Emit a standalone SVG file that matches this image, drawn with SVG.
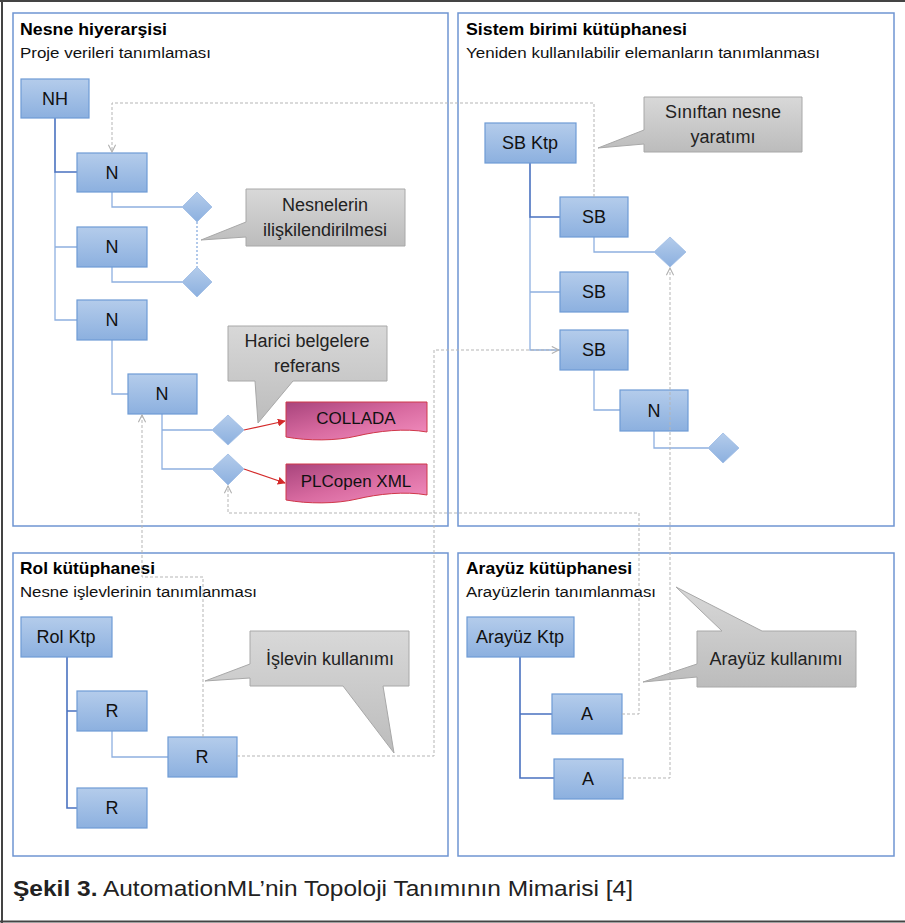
<svg xmlns="http://www.w3.org/2000/svg" width="905" height="923" viewBox="0 0 905 923">
<defs>
<linearGradient id="gNode" x1="0" y1="0" x2="0" y2="1"><stop offset="0" stop-color="#b4cceb"/><stop offset="1" stop-color="#8cb0df"/></linearGradient>
<linearGradient id="gCall" x1="0" y1="0" x2="0" y2="1"><stop offset="0" stop-color="#d8d8d8"/><stop offset="1" stop-color="#bcbcbc"/></linearGradient>
<linearGradient id="gDoc" x1="0" y1="0" x2="1" y2="1"><stop offset="0" stop-color="#a8447c"/><stop offset="0.5" stop-color="#d86aa0"/><stop offset="1" stop-color="#f490c0"/></linearGradient>
<marker id="ga" viewBox="0 0 10 10" refX="9" refY="5" markerWidth="9" markerHeight="9" markerUnits="userSpaceOnUse" orient="auto"><path d="M1,1 L9,5 L1,9" fill="none" stroke="#b0b0b0" stroke-width="1.2"/></marker>
<marker id="ra" viewBox="0 0 10 10" refX="9" refY="5" markerWidth="8" markerHeight="8" markerUnits="userSpaceOnUse" orient="auto"><path d="M0,0 L10,5 L0,10 Z" fill="#d42a2a"/></marker>
</defs>
<style>
.panel{fill:#fff;stroke:#6f95d2;stroke-width:1.5}
.node rect{fill:url(#gNode);stroke:#6e9bd5;stroke-width:1.2}
.node text{font-family:"Liberation Sans",Arial,sans-serif;font-size:18px;fill:#111;text-anchor:middle}
.dia{fill:url(#gNode);stroke:#9dbbe4;stroke-width:0.8}
.dark{fill:none;stroke:#4a72c0;stroke-width:1.6}
.light{fill:none;stroke:#8eb0e0;stroke-width:1.3}
.dash{fill:none;stroke:#b5b5b5;stroke-width:1;stroke-dasharray:3,2}
.bdash{fill:none;stroke:#7fa6dc;stroke-width:1.2;stroke-dasharray:2,2}
.red{fill:none;stroke:#d42a2a;stroke-width:1.2}
.call path{fill:url(#gCall);stroke:#a8a8a8;stroke-width:1}
.call text{font-family:"Liberation Sans",Arial,sans-serif;font-size:18px;fill:#222;text-anchor:middle}
.doc path{fill:url(#gDoc);stroke:#d0384a;stroke-width:1}
.doc text{font-family:"Liberation Sans",Arial,sans-serif;font-size:17px;fill:#111;text-anchor:middle}
.ttl{font-family:"Liberation Sans",Arial,sans-serif;font-size:17px;font-weight:bold;fill:#000}
.sub{font-family:"Liberation Sans",Arial,sans-serif;font-size:15.5px;fill:#111}
</style>
<rect width="905" height="923" fill="#fff"/>
<g id="frame" fill="none" stroke="#444" stroke-width="2">
<path d="M0,1 H905"/><path d="M2,0 V923"/><path d="M0,921.5 H905"/>
</g>
<g id="panels">
<rect class="panel" x="13" y="13" width="435" height="513"/>
<rect class="panel" x="458" y="13" width="436" height="513"/>
<rect class="panel" x="13" y="553" width="435" height="303"/>
<rect class="panel" x="458" y="553" width="436" height="303"/>
<text class="ttl" x="20" y="35" textLength="147" lengthAdjust="spacingAndGlyphs">Nesne hiyerarşisi</text>
<text class="sub" x="20" y="58" textLength="191" lengthAdjust="spacingAndGlyphs">Proje verileri tanımlaması</text>
<text class="ttl" x="466" y="35" textLength="221" lengthAdjust="spacingAndGlyphs">Sistem birimi kütüphanesi</text>
<text class="sub" x="466" y="58" textLength="354" lengthAdjust="spacingAndGlyphs">Yeniden kullanılabilir elemanların tanımlanması</text>
<text class="ttl" x="20" y="574" textLength="135" lengthAdjust="spacingAndGlyphs">Rol kütüphanesi</text>
<text class="sub" x="20" y="597" textLength="237" lengthAdjust="spacingAndGlyphs">Nesne işlevlerinin tanımlanması</text>
<text class="ttl" x="466" y="574" textLength="166" lengthAdjust="spacingAndGlyphs">Arayüz kütüphanesi</text>
<text class="sub" x="466" y="597" textLength="190" lengthAdjust="spacingAndGlyphs">Arayüzlerin tanımlanması</text>
</g>
<g id="connectors">
<path class="light" d="M55,172 V320 H77 M55,247 H77"/>
<path class="dark" d="M55,118 V172 H77"/>
<path class="light" d="M112,192 V207 H182 M112,267 V282 H182"/>
<path class="bdash" d="M197,222 V267"/>
<path class="light" d="M112,340 V394 H128"/>
<path class="light" d="M162,414 V469 H212 M162,430 H212"/>
<path class="red" d="M244,430 L285,421" marker-end="url(#ra)"/>
<path class="red" d="M244,469 L285,483" marker-end="url(#ra)"/>
<path class="light" d="M530,217 V350 H560 M530,292 H560"/>
<path class="dark" d="M530,163 V217 H560"/>
<path class="light" d="M594,237 V252 H654"/>
<path class="light" d="M594,370 V410 H620"/>
<path class="light" d="M654,431 V448 H708"/>
<path class="dark" d="M67,657 V808 H77 M67,711 H77"/>
<path class="light" d="M112,731 V757 H168"/>
<path class="dark" d="M520,657 V778 H554 M520,714 H552"/>
</g>
<g id="nodes">
<g id="NH" class="node"><rect x="21" y="79" width="68" height="39"/><text x="55" y="105">NH</text></g>
<g id="N1" class="node"><rect x="77" y="153" width="70" height="39"/><text x="112" y="179">N</text></g>
<g id="N2" class="node"><rect x="77" y="227" width="70" height="40"/><text x="112" y="253">N</text></g>
<g id="N3" class="node"><rect x="77" y="300" width="70" height="40"/><text x="112" y="326">N</text></g>
<g id="N4" class="node"><rect x="128" y="374" width="69" height="40"/><text x="162" y="400">N</text></g>
<g id="SBKtp" class="node"><rect x="485" y="123" width="91" height="40"/><text x="530" y="149">SB Ktp</text></g>
<g id="SB1" class="node"><rect x="560" y="197" width="68" height="40"/><text x="594" y="223">SB</text></g>
<g id="SB2" class="node"><rect x="560" y="272" width="68" height="40"/><text x="594" y="298">SB</text></g>
<g id="SB3" class="node"><rect x="560" y="330" width="68" height="40"/><text x="594" y="356">SB</text></g>
<g id="N5" class="node"><rect x="620" y="390" width="68" height="41"/><text x="654" y="417">N</text></g>
<g id="RolKtp" class="node"><rect x="21" y="617" width="91" height="40"/><text x="66" y="643">Rol Ktp</text></g>
<g id="R1" class="node"><rect x="77" y="691" width="70" height="40"/><text x="112" y="717">R</text></g>
<g id="R2" class="node"><rect x="168" y="737" width="69" height="40"/><text x="202" y="763">R</text></g>
<g id="R3" class="node"><rect x="77" y="788" width="70" height="40"/><text x="112" y="814">R</text></g>
<g id="ArayuzKtp" class="node"><rect x="467" y="617" width="107" height="40"/><text x="520" y="643">Arayüz Ktp</text></g>
<g id="A1" class="node"><rect x="552" y="694" width="70" height="40"/><text x="587" y="720">A</text></g>
<g id="A2" class="node"><rect x="554" y="759" width="69" height="40"/><text x="588" y="785">A</text></g>
<g id="D1"><path class="dia" d="M182,207 L197,192 L212,207 L197,222 Z"/></g>
<g id="D2"><path class="dia" d="M182,282 L197,267 L212,282 L197,297 Z"/></g>
<g id="D3"><path class="dia" d="M212,430 L228,415 L244,430 L228,445 Z"/></g>
<g id="D4"><path class="dia" d="M212,469 L228,454 L244,469 L228,485 Z"/></g>
<g id="D5"><path class="dia" d="M654,252 L670,237 L686,252 L670,267 Z"/></g>
<g id="D6"><path class="dia" d="M708,448 L723,433 L739,448 L723,463 Z"/></g>
<g id="COLLADA" class="doc"><path d="M286,402 H427 V432 C405,428 378,431 357,436 C336,441 308,441 286,437 Z"/><text x="356" y="424">COLLADA</text></g>
<g id="PLCopen" class="doc"><path d="M286,464 H427 V495 C405,491 378,494 357,499 C336,504 308,504 286,500 Z"/><text x="356" y="487">PLCopen XML</text></g>
</g>
<g id="callouts">
<g id="c1" class="call"><path d="M246,189 H405 V246 H246 V237 L201,240 L246,222 Z"/><text x="325" y="211">Nesnelerin</text><text x="325" y="236">ilişkilendirilmesi</text></g>
<g id="c2" class="call"><path d="M228,326 H387 V381 H293 L258,423 L255,381 H228 Z"/><text x="307" y="347">Harici belgelere</text><text x="307" y="372">referans</text></g>
<g id="c3" class="call"><path d="M644,97 H802 V152 H644 V144 L598,148 L644,130 Z"/><text x="723" y="118">Sınıftan nesne</text><text x="723" y="143">yaratımı</text></g>
<g id="c4" class="call"><path d="M250,631 H409 V686 H383 L394,753 L343,686 H250 V678 L205,681 L250,664 Z"/><text x="330" y="665">İşlevin kullanımı</text></g>
<g id="c5" class="call"><path d="M697,631 H722 L676,587 L762,631 H856 V687 H697 V677 L643,682 L697,664 Z"/><text x="776" y="665">Arayüz kullanımı</text></g>
</g>
<g id="dashed-connectors">
<path class="dash" d="M594,197 V103 H112 V152" marker-end="url(#ga)"/>
<path class="dash" d="M623,778 H670 V268" marker-end="url(#ga)"/>
<path class="dash" d="M622,714 H639 V513 H228 V486" marker-end="url(#ga)"/>
<path class="dash" d="M237,756 H434 V350 H559" marker-end="url(#ga)"/>
<path class="dash" d="M203,737 V577 H142 V415" marker-end="url(#ga)"/>
</g>
<text x="13" y="896" font-family="'Liberation Sans Narrow','Liberation Sans',Arial,sans-serif" font-size="22" fill="#222" textLength="620" lengthAdjust="spacingAndGlyphs"><tspan font-weight="bold">Şekil 3.</tspan> AutomationML’nin Topoloji Tanımının Mimarisi [4]</text>
</svg>
